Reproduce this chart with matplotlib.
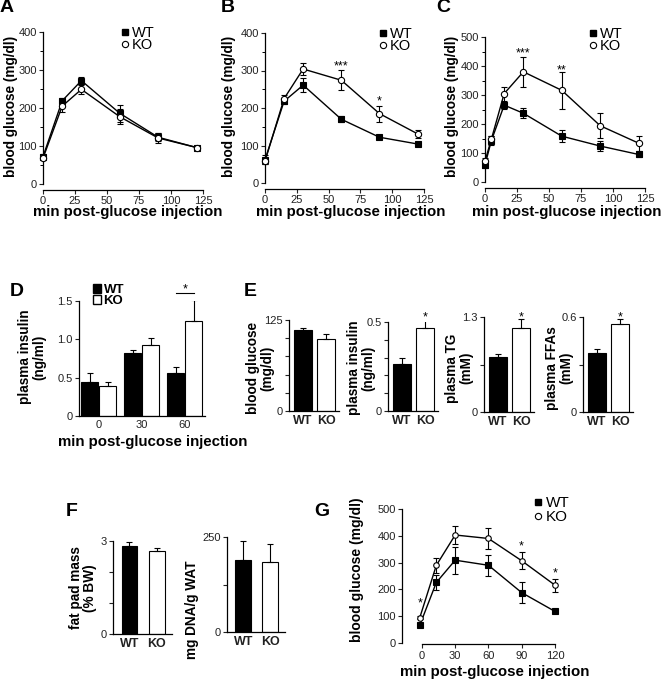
import matplotlib
matplotlib.use('Agg')
import matplotlib.pyplot as plt
from matplotlib.lines import Line2D
from matplotlib.patches import Patch
from matplotlib.ticker import MultipleLocator

plt.rcParams['font.family'] = ['Liberation Sans', 'DejaVu Sans']
plt.rcParams['font.size'] = 8

# ---- data ----
A_t = [0, 15, 30, 60, 90, 120]
A_wt = [72, 219, 272, 186, 123, 96]
A_wt_err = [6, 8, 10, 22, 10, 4]
A_ko = [68, 205, 249, 177, 121, 96]
A_ko_err = [6, 15, 12, 20, 12, 4]

B_t = [0, 15, 30, 60, 90, 120]
B_wt = [62, 218, 261, 170, 122, 104]
B_wt_err = [12, 8, 19, 8, 4, 4]
B_ko = [58, 225, 304, 274, 185, 131]
B_ko_err = [8, 10, 17, 27, 21, 10]
B_star_t = [60, 90]
B_star_y = [322, 229]
B_star_s = ['***', '*']

C_t = [0, 5, 15, 30, 60, 90, 120]
C_wt = [59, 143, 265, 237, 158, 124, 95]
C_wt_err = [10, 17, 12, 17, 20, 17, 8]
C_ko = [72, 148, 305, 380, 316, 194, 134]
C_ko_err = [10, 12, 24, 52, 65, 43, 26]
C_star_t = [30, 60]
C_star_y = [457, 400]
C_star_s = ['***', '**']

D_groups = ['0', '30', '60']
D_wt = [0.44, 0.82, 0.56]
D_wt_err = [0.12, 0.04, 0.08]
D_ko = [0.39, 0.93, 1.24]
D_ko_err = [0.05, 0.09, 0.27]

genotypes = ['WT', 'KO']
E_glc = [111, 99]
E_glc_err = [3.5, 7]
E_ins = [0.266, 0.468]
E_ins_err = [0.034, 0.048]
E_tg = [0.75, 1.15]
E_tg_err = [0.05, 0.12]
E_ffa = [0.375, 0.556]
E_ffa_err = [0.025, 0.029]

F_fat = [2.85, 2.68]
F_fat_err = [0.13, 0.10]
F_dna = [189, 185]
F_dna_err = [50, 46]

G_t = [-2, 13, 30, 60, 90, 120]
G_wt = [66, 226, 309, 290, 188, 118]
G_wt_err = [8, 28, 50, 40, 38, 5]
G_ko = [94, 290, 403, 390, 307, 216]
G_ko_err = [6, 27, 35, 38, 31, 24]
G_star_t = [-2, 90, 120]
G_star_y = [163, 375, 275]

W, H = 662, 681
fig = plt.figure(figsize=(W / 100, H / 100), dpi=100)
XLAB = 10.8
YLAB = 9.8


def add_ax(x0, y0, x1, y1):
    # box in pixels: left, top, right, bottom
    return fig.add_axes([x0 / W, 1 - y1 / H, (x1 - x0) / W, (y1 - y0) / H])


def ftext(x, y, s, **kw):
    fig.text(x / W, 1 - y / H, s, **kw)


def style(ax):
    for s in ['top', 'right']:
        ax.spines[s].set_visible(False)
    for s in ['left', 'bottom']:
        ax.spines[s].set_linewidth(0.9)
    ax.tick_params(direction='out', length=3, width=0.8, pad=1.5,
                   labelsize=8, colors='#222')
    ax.tick_params(which='minor', direction='out', length=2, width=0.7)
    ax.patch.set_alpha(0)


def ylab(x, y, s, size=YLAB):
    ftext(x, y, s, rotation=90, ha='center', va='center',
          fontweight='bold', fontsize=size, multialignment='center',
          linespacing=1.05)


def xlab(x, y, s):
    ftext(x, y, s, ha='center', va='center', fontweight='bold', fontsize=XLAB)


def curve(ax, t, wt, wt_err, ko, ko_err, ms=4.5):
    for y, e, m, fc in [(wt, wt_err, 's', 'k'), (ko, ko_err, 'o', 'w')]:
        c = ax.errorbar(t, y, yerr=e, color='k', lw=1, marker=m, ms=ms,
                        mfc=fc, mec='k', mew=0.8, capsize=2,
                        elinewidth=0.8, capthick=0.8, zorder=3)
        for a in c.get_children():
            a.set_clip_on(False)


def mleg(ax, x, y, size=10.5, sp=-0.12):
    hs = [Line2D([], [], ls='none', marker='s', ms=4.5, mfc='k', mec='k'),
          Line2D([], [], ls='none', marker='o', ms=4.5, mfc='w', mec='k',
                 mew=0.8)]
    ax.legend(hs, genotypes, loc='upper left', bbox_to_anchor=(x / W, 1 - y / H),
              bbox_transform=fig.transFigure, frameon=False, borderpad=0,
              borderaxespad=0, handlelength=0.5, handletextpad=0.25,
              labelspacing=sp, fontsize=size)


def star(ax, x, y, s):
    ax.annotate(s, (x, y), xytext=(0, -3), textcoords='offset points',
                ha='center', va='center', fontsize=9, annotation_clip=False)


def line_panel(box, t, wt, we, ko, ke, ymax):
    ax = add_ax(*box)
    style(ax)
    curve(ax, t, wt, we, ko, ke)
    ax.set_xlim(0, 125)
    ax.set_ylim(0, ymax)
    ax.set_xticks([0, 25, 50, 75, 100, 125])
    ax.set_yticks(range(0, ymax + 1, 100))
    ax.yaxis.set_minor_locator(MultipleLocator(50))
    ax.spines['bottom'].set_position(('outward', 4))
    return ax


# ---- A, B, C ----
axA = line_panel((43, 32, 203, 184), A_t, A_wt, A_wt_err, A_ko, A_ko_err, 400)
mleg(axA, 121, 26)
axB = line_panel((265, 33, 424, 183), B_t, B_wt, B_wt_err, B_ko, B_ko_err, 400)
mleg(axB, 379, 27)
for x, y, s in zip(B_star_t, B_star_y, B_star_s):
    star(axB, x, y, s)
axC = line_panel((485, 37, 645, 182), C_t, C_wt, C_wt_err, C_ko, C_ko_err, 500)
mleg(axC, 589, 27)
for x, y, s in zip(C_star_t, C_star_y, C_star_s):
    star(axC, x, y, s)

for xc, xl in [(11, 128), (229, 351), (452, 567)]:
    ylab(xc, 106, 'blood glucose (mg/dl)')
    xlab(xl, 212, 'min post-glucose injection')

# ---- D ----
axD = add_ax(79, 301, 205, 416)
style(axD)
gx = list(range(len(D_groups)))
axD.bar([g - 0.21 for g in gx], D_wt, 0.39, color='k', edgecolor='k', lw=0.8)
axD.bar([g + 0.21 for g in gx], D_ko, 0.39, color='w', edgecolor='k', lw=0.8)
axD.errorbar([g - 0.21 for g in gx], D_wt, yerr=[[0] * 3, D_wt_err], fmt='none',
             ecolor='k', elinewidth=0.8, capsize=2.5, capthick=0.8)
axD.errorbar([g + 0.21 for g in gx], D_ko, yerr=[[0] * 3, D_ko_err], fmt='none',
             ecolor='k', elinewidth=0.8, capsize=2.5, capthick=0.8)
axD.set_xlim(-0.46, 2.47)
axD.set_ylim(0, 1.5)
axD.set_yticks([0, 0.5, 1.0, 1.5], ['0', '0.5', '1.0', '1.5'])
axD.set_xticks(gx, D_groups)
axD.tick_params(axis='x', length=0, pad=3)
axD.plot([2 - 0.21, 2 + 0.21], [1.6, 1.6], color='k', lw=0.8, clip_on=False)
star(axD, 2, 1.71, '*')
axD.legend([Patch(fc='k', ec='k'), Patch(fc='w', ec='k')], genotypes,
           loc='upper left', bbox_to_anchor=(93 / W, 1 - 284 / H),
           bbox_transform=fig.transFigure, frameon=False, borderpad=0,
           borderaxespad=0, handlelength=0.6, handleheight=0.7,
           handletextpad=0.2, labelspacing=-0.1,
           prop={'weight': 'bold', 'size': 9.5})
ylab(32, 357, 'plasma insulin\n(ng/ml)')
xlab(153, 442, 'min post-glucose injection')


# ---- E and F ----
def two_bars(box, vals, errs, ymax, ticks, labels, width=0.78, sig=None):
    ax = add_ax(*box)
    style(ax)
    ax.bar([0, 1], vals, width, color=['k', 'w'], edgecolor='k', lw=0.8)
    ax.errorbar([0, 1], vals, yerr=[[0, 0], errs], fmt='none', ecolor='k',
                elinewidth=0.8, capsize=2.5, capthick=0.8)
    ax.set_xlim(-0.6, 1.55)
    ax.set_ylim(0, ymax)
    ax.set_yticks(ticks, labels)
    ax.set_xticks([0, 1], genotypes, fontweight='bold', fontsize=9)
    ax.tick_params(axis='x', length=0, pad=3)
    if sig is not None:
        star(ax, 1, sig, '*')
    return ax


two_bars((289, 320, 339, 411), E_glc, E_glc_err, 125,
         [0, 25, 50, 75, 100, 125], ['0', '', '', '', '', '125'])
two_bars((388, 322, 438, 411), E_ins, E_ins_err, 0.5,
         [0, 0.1, 0.2, 0.3, 0.4, 0.5], ['0', '', '', '', '', '0.5'], sig=0.55)
two_bars((484, 317, 534, 412), E_tg, E_tg_err, 1.3,
         [0, 0.65, 1.3], ['0', '', '1.3'], sig=1.355)
two_bars((583, 317, 633, 412), E_ffa, E_ffa_err, 0.6,
         [0, 0.3, 0.6], ['0', '', '0.6'], sig=0.625)
ylab(260, 368, 'blood glucose\n(mg/dl)')
ylab(361, 368, 'plasma insulin\n(ng/ml)')
ylab(459, 368, 'plasma TG\n(mM)')
ylab(559, 368, 'plasma FFAs\n(mM)')

two_bars((113, 541, 172, 634), F_fat, F_fat_err, 3,
         [0, 1, 2, 3], ['0', '', '', '3'], width=0.57)
two_bars((227, 537, 285, 632), F_dna, F_dna_err, 250,
         [0, 125, 250], ['0', '', '250'], width=0.6)
ylab(83, 588, 'fat pad mass\n(% BW)')
ylab(192, 610, 'mg DNA/g WAT')

# ---- G ----
axG = add_ax(402, 509, 563, 643)
style(axG)
curve(axG, G_t, G_wt, G_wt_err, G_ko, G_ko_err, ms=4)
axG.set_xlim(-18, 127.3)
axG.set_ylim(0, 500)
axG.set_xticks([0, 30, 60, 90, 120])
axG.set_yticks(range(0, 501, 100))
axG.spines['bottom'].set_bounds(0, 120)
axG.spines['bottom'].set_position(('outward', 1))
mleg(axG, 534, 496, size=11, sp=0.0)
for x, y in zip(G_star_t, G_star_y):
    star(axG, x, y, '*')
ylab(357, 570, 'blood glucose (mg/dl)', size=10)
xlab(495, 672, 'min post-glucose injection')

# panel letters
for s, x, y in [('A', 7, 8), ('B', 228, 8), ('C', 443, 8), ('D', 17, 291),
                ('E', 250, 292), ('F', 72, 511), ('G', 322, 511)]:
    ftext(x, y, s, ha='center', va='center', fontweight='bold', fontsize=14)

fig.savefig('out.png', dpi=100)
